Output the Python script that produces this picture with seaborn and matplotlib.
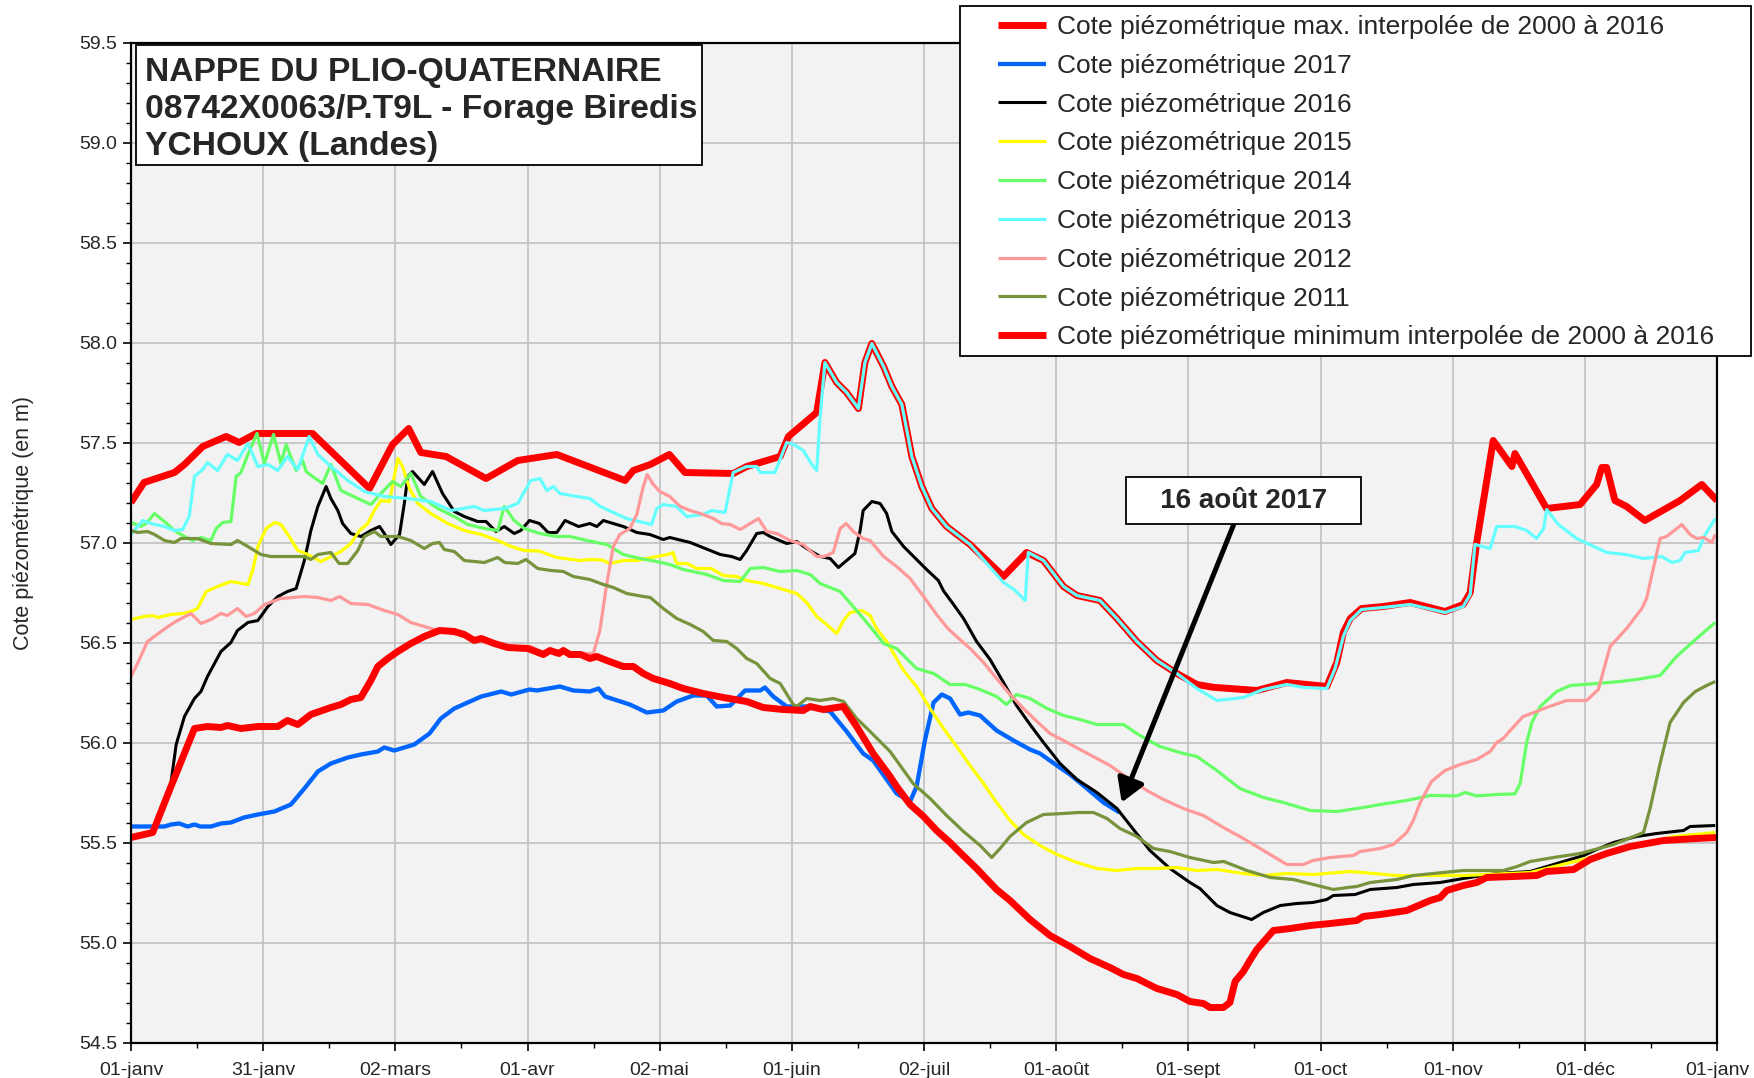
import numpy as np
import pandas as pd
import matplotlib
matplotlib.use("Agg")
import matplotlib.pyplot as plt
from matplotlib.patches import Rectangle
from matplotlib.ticker import FixedLocator, MultipleLocator, FormatStrFormatter
import seaborn as sns

# --- data (day of year, level in m) ---
max_days = [0, 3, 10, 12.3, 16.5, 21.9, 24.9, 28.8, 41.8, 54.9, 60.2, 63.9, 66.7, 72.5, 81.7, 89, 98,
            113.7, 115.6, 119.5, 123.9, 127.5, 138.6, 141.7, 149.4, 151.3, 157.8, 159.7, 162.4, 164.7,
            167.4, 168.9, 170.5, 173.2, 175.1, 177.4, 179.7, 182, 184.3, 187.7, 193.1, 200.8, 206.1,
            210, 214.6, 217.7, 223, 226.9, 231.5, 236.1, 240.7, 245.3, 249.1, 259.1, 266, 275.2, 277.5,
            279, 280.6, 283.2, 288.2, 294.4, 302.4, 306.6, 308.2, 309.7, 313.5, 317.8, 318.5, 325.8,
            333.5, 337.3, 338.5, 339.6, 341.5, 344.2, 348.4, 356.5, 361.5, 365]
max_vals = [57.20, 57.30, 57.35, 57.39, 57.48, 57.53, 57.50, 57.545, 57.545, 57.27, 57.49, 57.57, 57.45,
            57.43, 57.32, 57.41, 57.44, 57.31, 57.36, 57.39, 57.44, 57.35, 57.345, 57.38, 57.43, 57.53,
            57.65, 57.90, 57.80, 57.75, 57.67, 57.90, 57.995, 57.88, 57.78, 57.69, 57.43, 57.28, 57.17,
            57.08, 56.99, 56.83, 56.95, 56.91, 56.78, 56.735, 56.71, 56.62, 56.505, 56.41, 56.345, 56.29,
            56.276, 56.26, 56.30, 56.28, 56.40, 56.55, 56.62, 56.67, 56.68, 56.70, 56.655, 56.69, 56.75,
            57.00, 57.51, 57.38, 57.445, 57.17, 57.19, 57.29, 57.375, 57.375, 57.21, 57.18, 57.11, 57.21,
            57.29, 57.21]

d2017 = [0, 7.7, 9.2, 11.1, 13, 14.6, 16, 18.4, 20.7, 23, 26, 29.2, 33, 36.8, 39.9, 43, 46, 49.9, 52.9,
         56.8, 58.3, 60.6, 65.2, 68.7, 71.3, 74.4, 80.6, 85.2, 87.5, 91.7, 93.4, 98.7, 101.8, 105.6, 107.6,
         109.1, 114.8, 118.7, 122.5, 125.6, 129.4, 132.5, 134.8, 137.9, 141.3, 144.8, 145.9, 147.8, 150.9,
         155.5, 160.9, 164.7, 168.5, 170.8, 176.2, 179.3, 180.8, 182.7, 184.7, 186.6, 188.5, 190.8, 192.7,
         195.4, 199.2, 203.1, 206.9, 209.2, 213.1, 216.1, 220, 223.8, 227.5]
v2017 = [55.58, 55.58, 55.59, 55.595, 55.58, 55.59, 55.58, 55.58, 55.595, 55.60, 55.625, 55.64, 55.655,
         55.69, 55.77, 55.855, 55.895, 55.925, 55.94, 55.955, 55.975, 55.96, 55.99, 56.045, 56.12, 56.17,
         56.23, 56.255, 56.24, 56.265, 56.26, 56.28, 56.26, 56.255, 56.27, 56.23, 56.19, 56.15, 56.16,
         56.205, 56.235, 56.235, 56.18, 56.185, 56.26, 56.26, 56.275, 56.23, 56.18, 56.18, 56.155, 56.055,
         55.945, 55.91, 55.745, 55.705, 55.78, 56.01, 56.20, 56.24, 56.22, 56.14, 56.15, 56.135, 56.06,
         56.01, 55.965, 55.945, 55.885, 55.84, 55.77, 55.70, 55.65]

d2016 = [0, 5, 9.2, 10.4, 12.3, 14.6, 16.1, 17.6, 20.7, 23, 24.5, 26.9, 29.2, 31.5, 33.8, 36, 38, 39.9,
         41.4, 43, 44.9, 46, 47.6, 48.7, 50.6, 52.9, 55.2, 57.2, 58.3, 59.8, 61.8, 62.9, 63.7, 64.8, 67.5,
         69.4, 71.7, 74.4, 76.7, 79.8, 81.7, 84, 85.9, 88.2, 89.7, 91.7, 94, 96, 98, 99.9, 103, 105.6,
         107.2, 108.7, 110.2, 113.3, 116.4, 119.4, 122.5, 124, 128.7, 131, 133.3, 135.6, 138.2, 140.2,
         141.7, 144, 145.5, 147.1, 150.9, 153.2, 155.5, 158.6, 160.9, 162.8, 164.7, 166.6, 167.8, 168.5,
         170.5, 172.4, 173.9, 175.1, 177.8, 180.1, 183.1, 185.8, 187, 189.3, 191.6, 194.6, 197.7, 200.8,
         203.8, 206.9, 210, 213.8, 217.7, 222.3, 226.9, 230.7, 234.5, 239.1, 243.7, 246, 249.9, 252.9,
         257.9, 260.6, 264.5, 268.3, 272, 275.2, 276.7, 281.7, 285.2, 291.3, 295.1, 301.3, 306.6, 314.3,
         322, 329.7, 334.3, 337.3, 341.2, 346.5, 351.1, 357.3, 358.8, 364.6]
v2016 = [55.53, 55.55, 55.80, 55.99, 56.13, 56.22, 56.255, 56.33, 56.455, 56.50, 56.56, 56.60, 56.61,
         56.68, 56.73, 56.755, 56.77, 56.91, 57.06, 57.18, 57.28, 57.22, 57.16, 57.095, 57.045, 57.03,
         57.06, 57.08, 57.045, 56.99, 57.04, 57.195, 57.33, 57.355, 57.29, 57.355, 57.245, 57.155, 57.13,
         57.105, 57.105, 57.055, 57.08, 57.045, 57.06, 57.11, 57.095, 57.05, 57.05, 57.11, 57.08, 57.095,
         57.08, 57.11, 57.10, 57.08, 57.05, 57.04, 57.015, 57.025, 57.0, 56.98, 56.96, 56.94, 56.93,
         56.915, 56.96, 57.045, 57.05, 57.03, 56.995, 57.005, 56.97, 56.93, 56.92, 56.875, 56.91, 56.945,
         57.06, 57.16, 57.205, 57.195, 57.145, 57.055, 56.98, 56.93, 56.865, 56.81, 56.758, 56.69, 56.62,
         56.505, 56.415, 56.30, 56.185, 56.09, 56.0, 55.895, 55.815, 55.75, 55.67, 55.565, 55.46, 55.37,
         55.30, 55.27, 55.185, 55.15, 55.115, 55.15, 55.185, 55.195, 55.20, 55.215, 55.235, 55.24, 55.265,
         55.275, 55.29, 55.30, 55.32, 55.345, 55.355, 55.405, 55.435, 55.465, 55.50, 55.53, 55.545, 55.56,
         55.58, 55.585]

d2015 = [0, 3, 5, 6.1, 9.2, 11.9, 13.8, 15.3, 17.3, 19.9, 23, 26.9, 28, 29.2, 31.1, 33, 34.5, 36.4, 38.4,
         40.7, 43.7, 46, 48.3, 50.6, 52.6, 54.5, 56, 57.5, 59.5, 60.6, 61.4, 62.5, 64.1, 66, 69, 72.9,
         76.7, 80.6, 84.4, 87.5, 90.5, 94, 98, 103.3, 106, 108.5, 110.2, 113.3, 116.4, 121, 123.5, 124.7,
         125.6, 128, 130.2, 133.5, 136.3, 139.4, 141.7, 145.5, 149.4, 153.2, 155.5, 157.8, 160.1, 162.4,
         164, 165.5, 168.2, 170.1, 171.6, 173.9, 177.8, 180.8, 183.9, 187, 190, 193.1, 196.2, 199.2,
         202.3, 205.4, 209.2, 213.1, 217.7, 222.3, 226.9, 231.5, 236, 240.7, 245.3, 250, 256, 260.6, 266,
         272.1, 280.6, 291.3, 306.6, 322, 335, 345, 355, 364.6]
v2015 = [56.615, 56.63, 56.635, 56.625, 56.64, 56.645, 56.655, 56.67, 56.755, 56.78, 56.805, 56.79,
         56.86, 56.98, 57.07, 57.10, 57.09, 57.03, 56.96, 56.94, 56.905, 56.93, 56.955, 56.995, 57.06,
         57.095, 57.16, 57.21, 57.205, 57.33, 57.42, 57.38, 57.27, 57.195, 57.145, 57.095, 57.06, 57.04,
         57.01, 56.98, 56.96, 56.957, 56.925, 56.91, 56.915, 56.912, 56.895, 56.91, 56.91, 56.93, 56.94,
         56.95, 56.895, 56.895, 56.87, 56.87, 56.835, 56.83, 56.81, 56.795, 56.77, 56.745, 56.70, 56.63,
         56.59, 56.545, 56.61, 56.65, 56.66, 56.635, 56.57, 56.505, 56.36, 56.28, 56.17, 56.07, 55.98,
         55.885, 55.795, 55.70, 55.61, 55.54, 55.485, 55.44, 55.40, 55.37, 55.36, 55.37, 55.37, 55.375,
         55.36, 55.365, 55.345, 55.335, 55.345, 55.34, 55.355, 55.335, 55.335, 55.35, 55.42, 55.48, 55.53,
         55.55]

d2014 = [0, 2.3, 3.5, 5.4, 7.7, 10, 12.3, 14.2, 16.1, 18.4, 19.6, 21.1, 23, 24.2, 25.3, 26.9, 29, 30.7,
         32.8, 34.5, 35.7, 38, 39.5, 40.3, 41.8, 44.1, 46, 48.3, 52.2, 55.2, 57.5, 60.2, 62.1, 64.4, 66.7,
         70.6, 74.4, 77.5, 81.3, 84.4, 85.9, 88.2, 90.5, 94.1, 98, 101, 104.9, 109.5, 113.3, 117.1, 121,
         124, 127.1, 132.5, 136.3, 140.2, 142.5, 145.5, 149.4, 153.2, 156.3, 158.6, 163.2, 166.2, 170.1,
         173.2, 176.2, 180.8, 184.7, 188.5, 192, 195.4, 199.2, 201.5, 203.8, 206.9, 210.8, 214.6, 218.4,
         222.3, 228.4, 232.2, 236.8, 242.2, 245.3, 249.9, 255.2, 260.6, 265.2, 271.4, 277.5, 280.6, 283.6,
         287.5, 293.6, 299, 305.1, 307, 309.7, 314.3, 318.5, 319.7, 321.2, 322.4, 324.3, 328.1, 331.2,
         337.3, 342.7, 346.5, 351.9, 355.7, 360.3, 364.6]
v2014 = [57.10, 57.08, 57.095, 57.145, 57.105, 57.06, 57.03, 57.01, 57.025, 57.01, 57.07, 57.10, 57.105,
         57.33, 57.35, 57.44, 57.545, 57.395, 57.54, 57.395, 57.49, 57.36, 57.41, 57.355, 57.33, 57.295,
         57.39, 57.26, 57.22, 57.19, 57.245, 57.305, 57.28, 57.345, 57.23, 57.17, 57.13, 57.09, 57.07,
         57.06, 57.18, 57.11, 57.07, 57.045, 57.03, 57.03, 57.01, 56.99, 56.94, 56.92, 56.905, 56.89,
         56.865, 56.84, 56.81, 56.805, 56.87, 56.875, 56.855, 56.86, 56.84, 56.795, 56.755, 56.68, 56.58,
         56.495, 56.47, 56.37, 56.345, 56.29, 56.29, 56.265, 56.23, 56.19, 56.24, 56.22, 56.17, 56.135,
         56.115, 56.09, 56.09, 56.035, 55.98, 55.945, 55.93, 55.86, 55.77, 55.725, 55.70, 55.66, 55.655,
         55.665, 55.675, 55.69, 55.71, 55.735, 55.733, 55.75, 55.733, 55.74, 55.743, 55.795, 56.0, 56.10,
         56.18, 56.255, 56.285, 56.295, 56.305, 56.315, 56.335, 56.43, 56.52, 56.60]

d2013 = [0, 2.7, 4.6, 7.7, 10, 11.9, 13.4, 14.6, 16.5, 17.6, 19.9, 22.2, 24.5, 26.9, 29.2, 31.5, 33.8, 36,
         38.4, 41, 43, 46, 49.9, 53.7, 58.3, 63.7, 69, 73.6, 79, 81.3, 85.9, 89, 92, 94.1, 95.7, 97.2, 98.7,
         102.6, 105.6, 108, 111, 114, 117.9, 119.8, 121, 122.5, 125.6, 127.9, 131.7, 133.6, 136.7, 138.6,
         141.7, 144, 144.8, 148.2, 150.9, 152.5, 154.7, 156.7, 157.8, 158.6, 159.7, 162.4, 164.7, 167.4,
         168.9, 170.5, 173.2, 175.1, 177.4, 179.7, 182, 184.3, 187.7, 193.1, 200.8, 203.5, 205.8, 206.5,
         210, 214.6, 217.7, 223, 226.9, 231.5, 236.1, 240.7, 245.3, 249.9, 256, 260.6, 266, 270, 275.2,
         277.1, 279, 280.6, 283.2, 288.2, 294.4, 302.4, 306.6, 308.2, 309.3, 312.8, 314.3, 318.5, 321.2,
         323.5, 325.1, 325.8, 328.5, 332.7, 339.6, 344, 348.1, 352.3, 354.6, 356.5, 357.7, 360.7, 362.3,
         364.6]
v2013 = [57.04, 57.11, 57.095, 57.08, 57.06, 57.065, 57.13, 57.33, 57.365, 57.40, 57.36, 57.44, 57.41,
         57.495, 57.38, 57.39, 57.36, 57.43, 57.365, 57.53, 57.44, 57.38, 57.31, 57.255, 57.23, 57.22,
         57.205, 57.16, 57.18, 57.16, 57.17, 57.195, 57.31, 57.32, 57.26, 57.28, 57.245, 57.23, 57.22,
         57.18, 57.15, 57.12, 57.10, 57.09, 57.17, 57.19, 57.18, 57.13, 57.14, 57.16, 57.15, 57.35, 57.38,
         57.38, 57.35, 57.35, 57.50, 57.49, 57.46, 57.39, 57.36, 57.63, 57.90, 57.80, 57.75, 57.67, 57.90,
         57.995, 57.88, 57.78, 57.69, 57.43, 57.28, 57.17, 57.08, 56.99, 56.80, 56.76, 56.71, 56.95, 56.91,
         56.78, 56.735, 56.71, 56.62, 56.505, 56.41, 56.345, 56.27, 56.21, 56.225, 56.265, 56.29, 56.275,
         56.27, 56.37, 56.53, 56.61, 56.665, 56.675, 56.69, 56.65, 56.68, 56.74, 56.99, 56.97, 57.08,
         57.08, 57.06, 57.02, 57.07, 57.165, 57.09, 57.02, 56.95, 56.94, 56.92, 56.93, 56.90, 56.91, 56.95,
         56.96, 57.04, 57.12]

d2012 = [0, 1.5, 3.8, 6.9, 9.2, 10.7, 13.8, 16.1, 18.4, 20.7, 22.2, 24.5, 26.5, 28.4, 30.7, 34.5, 39.9,
         43, 46, 48, 50.6, 54.5, 58.3, 61.4, 64.4, 67.5, 70.6, 75.2, 79.8, 84.4, 88.2, 92, 94.4, 97, 100,
         104, 106.4, 107.9, 109.5, 111, 112.5, 114.8, 116.4, 117.9, 118.8, 120.2, 121.7, 124, 126.4, 128.7,
         131.7, 134, 135.9, 137.9, 140.2, 142.5, 144.4, 146.3, 148.6, 151.7, 154.7, 157.8, 159.5, 161.6,
         163.2, 164.6, 166.2, 168.5, 170.1, 173.2, 176.2, 179.3, 182.4, 185.4, 188, 190, 193.1, 196.2,
         199.2, 202.3, 205.4, 208.5, 211.5, 214.6, 218.4, 222.3, 225.3, 229.9, 233.8, 237.6, 242.2, 246.8,
         251.4, 256, 260.6, 266, 269.8, 272, 276, 281.3, 282.9, 287.5, 290.5, 293.6, 295.1, 296.7, 299.3,
         302.4, 305.9, 309.7, 312.8, 314.3, 315.8, 317.4, 320.4, 323.5, 325.8, 330.4, 335, 337.7, 340.4,
         344.2, 347.7, 348.8, 351.9, 353.4, 356.9, 358.8, 360.3, 362, 363.8, 364.6]
v2012 = [56.33, 56.395, 56.505, 56.555, 56.59, 56.61, 56.645, 56.595, 56.615, 56.645, 56.635, 56.67,
         56.63, 56.645, 56.69, 56.72, 56.73, 56.725, 56.71, 56.73, 56.695, 56.69, 56.66, 56.64, 56.60,
         56.58, 56.56, 56.54, 56.51, 56.495, 56.48, 56.48, 56.455, 56.46, 56.45, 56.445, 56.445, 56.56,
         56.795, 56.98, 57.04, 57.07, 57.14, 57.28, 57.34, 57.29, 57.255, 57.23, 57.18, 57.16, 57.14,
         57.12, 57.095, 57.09, 57.065, 57.095, 57.12, 57.055, 57.045, 57.01, 56.99, 56.93, 56.93, 56.95,
         57.07, 57.095, 57.055, 57.02, 57.01, 56.93, 56.88, 56.82, 56.73, 56.64, 56.57, 56.53, 56.47,
         56.40, 56.32, 56.24, 56.17, 56.105, 56.045, 56.01, 55.965, 55.92, 55.885, 55.815, 55.76, 55.715,
         55.67, 55.635, 55.575, 55.52, 55.46, 55.39, 55.39, 55.41, 55.425, 55.435, 55.455, 55.47, 55.49,
         55.55, 55.61, 55.70, 55.805, 55.86, 55.89, 55.915, 55.955, 56.0, 56.02, 56.06, 56.13, 56.155,
         56.175, 56.21, 56.21, 56.265, 56.48, 56.57, 56.67, 56.72, 57.02, 57.03, 57.09, 57.04, 57.02,
         57.025, 57.0, 57.04]

d2011 = [0, 1.5, 3.8, 5.4, 7.7, 10, 11.5, 15.3, 18.4, 23, 24.5, 26.9, 29.9, 32.2, 35.3, 39.9, 41.4, 43,
         46, 47.9, 49.9, 52.2, 53.7, 56, 57.5, 61.4, 64.4, 67.5, 69.4, 71, 72.1, 74.4, 76.7, 81.3, 84.4,
         86, 89, 90.9, 93.6, 96.7, 99.5, 101.8, 105.6, 108.7, 111, 114.1, 117.9, 119.5, 122.5, 125.6, 128.7,
         131.7, 134, 137.1, 139.4, 141.7, 144, 147.1, 149.4, 152.4, 153.2, 155.5, 158.6, 161.6, 164, 167,
         170.1, 174.7, 180, 183.9, 187.7, 191.6, 195.4, 198.1, 200, 202.3, 206.1, 210, 214.6, 218, 221.5,
         224.6, 227.6, 231.5, 235.3, 239.1, 243.7, 249.1, 251.5, 256.8, 262.2, 267.5, 272.1, 276.7, 280,
         282.1, 285.2, 291.3, 295.1, 306.6, 315.8, 319, 322, 327.4, 333.5, 341.2, 348.1, 349.6, 351.9,
         354.2, 357.3, 360, 362.6, 364.6]
v2011 = [57.06, 57.05, 57.055, 57.04, 57.01, 57.0, 57.02, 57.02, 56.995, 56.99, 57.01, 56.98, 56.94,
         56.93, 56.93, 56.93, 56.915, 56.94, 56.95, 56.895, 56.895, 56.96, 57.03, 57.055, 57.03, 57.03,
         57.01, 56.97, 56.995, 57.0, 56.965, 56.955, 56.91, 56.90, 56.925, 56.90, 56.895, 56.915, 56.87,
         56.86, 56.855, 56.83, 56.815, 56.79, 56.775, 56.745, 56.73, 56.725, 56.67, 56.62, 56.59, 56.555,
         56.51, 56.505, 56.47, 56.42, 56.395, 56.32, 56.295, 56.19, 56.18, 56.22, 56.21, 56.22, 56.205,
         56.12, 56.055, 55.955, 55.795, 55.72, 55.635, 55.555, 55.485, 55.425, 55.47, 55.53, 55.60, 55.64,
         55.645, 55.65, 55.65, 55.62, 55.57, 55.53, 55.47, 55.455, 55.425, 55.40, 55.405, 55.36, 55.325,
         55.315, 55.29, 55.265, 55.275, 55.28, 55.30, 55.315, 55.335, 55.36, 55.36, 55.38, 55.405, 55.425,
         55.445, 55.49, 55.55, 55.67, 55.895, 56.10, 56.20, 56.255, 56.285, 56.305]

min_days = [0, 5, 9.2, 14.6, 17.6, 20.7, 22.2, 25.3, 29.2, 33.8, 36, 38.4, 41.4, 46, 48.3, 50.6, 52.9,
            55.2, 56.8, 59.1, 61.4, 64.4, 67.5, 71, 74.4, 76.7, 79, 80.6, 83.6, 86.7, 91.3, 94.9, 96.4,
            98.5, 99.5, 101, 103.5, 105.6, 107.2, 109.5, 113.3, 115.6, 117.9, 120.2, 124, 127.1, 131.7,
            136.3, 141.7, 145.5, 150.1, 154.7, 156.3, 159.3, 163.9, 167, 170.8, 174.7, 176.2, 179.3, 182.4,
            185.4, 188.5, 190.8, 194.6, 199.2, 202.3, 206.9, 211.5, 216.1, 220.7, 225.3, 228.4, 231.5,
            236.1, 240.7, 243.7, 246.8, 248.3, 251.4, 252.9, 254.1, 256, 257.5, 259.1, 262.9, 266.8, 271.4,
            276, 282.1, 283.6, 287.5, 293.6, 299, 301.3, 302.8, 306.6, 309.7, 312, 318.1, 323.5, 325.8,
            332, 335.8, 339.6, 345, 352.7, 360.3, 365]
min_vals = [55.525, 55.55, 55.78, 56.07, 56.08, 56.075, 56.085, 56.07, 56.08, 56.08, 56.11, 56.09, 56.14,
            56.175, 56.19, 56.215, 56.225, 56.31, 56.38, 56.42, 56.455, 56.495, 56.53, 56.56, 56.555, 56.54,
            56.51, 56.52, 56.495, 56.475, 56.47, 56.44, 56.46, 56.445, 56.46, 56.44, 56.44, 56.42, 56.43,
            56.41, 56.38, 56.38, 56.345, 56.32, 56.295, 56.27, 56.245, 56.225, 56.205, 56.175, 56.165,
            56.16, 56.18, 56.165, 56.18, 56.08, 55.945, 55.83, 55.78, 55.69, 55.63, 55.56, 55.50, 55.45,
            55.37, 55.265, 55.21, 55.115, 55.035, 54.98, 54.92, 54.875, 54.84, 54.82, 54.77, 54.74, 54.705,
            54.695, 54.675, 54.675, 54.70, 54.805, 54.855, 54.91, 54.965, 55.06, 55.07, 55.085, 55.095,
            55.11, 55.13, 55.14, 55.16, 55.21, 55.225, 55.26, 55.285, 55.30, 55.325, 55.33, 55.335, 55.355,
            55.365, 55.415, 55.445, 55.48, 55.51, 55.52, 55.525]

month_labels = ["01-janv", "31-janv", "02-mars", "01-avr", "02-mai", "01-juin", "02-juil",
                "01-août", "01-sept", "01-oct", "01-nov", "01-déc", "01-janv"]

series = [
    ("Cote piézométrique max. interpolée de 2000 à 2016", max_days, max_vals, "#ff0000", 5.0),
    ("Cote piézométrique 2017", d2017, v2017, "#0066ff", 3.1),
    ("Cote piézométrique 2016", d2016, v2016, "#000000", 2.2),
    ("Cote piézométrique 2015", d2015, v2015, "#ffff00", 2.3),
    ("Cote piézométrique 2014", d2014, v2014, "#66ff66", 2.3),
    ("Cote piézométrique 2013", d2013, v2013, "#66ffff", 2.3),
    ("Cote piézométrique 2012", d2012, v2012, "#ff9999", 2.3),
    ("Cote piézométrique 2011", d2011, v2011, "#77933c", 2.3),
    ("Cote piézométrique minimum interpolée de 2000 à 2016", min_days, min_vals, "#ff0000", 5.0),
]

sns.set_theme(style="ticks")
plt.rcParams["font.family"] = ["Liberation Sans", "DejaVu Sans"]

fig = plt.figure(figsize=(17.54, 10.78), dpi=100)
ax = fig.add_axes([131 / 1754, 1 - 1042.5 / 1078, 1586 / 1754, 1000 / 1078])
ax.set_facecolor("#f2f2f2")

for label, xs, ys, col, lw in series:
    df = pd.DataFrame({"jour": xs, "cote": ys})
    sns.lineplot(data=df, x="jour", y="cote", color=col, lw=lw, ax=ax, label=label,
                 estimator=None, sort=False, solid_joinstyle="round", solid_capstyle="butt")

handles, labels = ax.get_legend_handles_labels()
if ax.get_legend() is not None:
    ax.get_legend().remove()

ax.set_xlim(0, 365)
ax.set_ylim(54.5, 59.5)
month_pos = [i * 365 / 12 for i in range(13)]
ax.xaxis.set_major_locator(FixedLocator(month_pos))
ax.xaxis.set_minor_locator(FixedLocator([(i + 0.5) * 365 / 12 for i in range(12)]))
ax.set_xticklabels(month_labels)
ax.yaxis.set_major_locator(MultipleLocator(0.5))
ax.yaxis.set_minor_locator(MultipleLocator(0.1))
ax.yaxis.set_major_formatter(FormatStrFormatter("%.1f"))
ax.grid(True, which="major", color="#c0c0c0", lw=1.2)
ax.set_axisbelow(True)
ax.tick_params(which="major", direction="out", length=6, width=1.2, color="black",
               labelsize=14, pad=4)
ax.tick_params(axis="x", which="major", pad=8)
ax.tick_params(which="minor", direction="out", length=3.5, width=1.0, color="black")
for s in ax.spines.values():
    s.set_color("black")
    s.set_linewidth(1.6)
ax.set_xlabel("")
ax.set_ylabel("Cote piézométrique (en m)", fontsize=15.5)
ax.yaxis.set_label_coords(-0.061, 0.52)

# title box
fig.patches.append(Rectangle((136 / 1754, 1 - 165 / 1078), 566 / 1754, 120 / 1078,
                             transform=fig.transFigure, facecolor="white", edgecolor="black",
                             lw=1.3, zorder=4))
fig.text(145 / 1754, 1 - 57 / 1078,
         "NAPPE DU PLIO-QUATERNAIRE\n08742X0063/P.T9L - Forage Biredis\nYCHOUX (Landes)",
         ha="left", va="top", fontsize=24.2, fontweight="bold", linespacing=1.26, zorder=5)

# legend box
fig.patches.append(Rectangle((960 / 1754, 1 - 356 / 1078), 791 / 1754, 350 / 1078,
                             transform=fig.transFigure, facecolor="white", edgecolor="black",
                             lw=1.3, zorder=4))
leg = fig.legend(handles, labels, loc="upper left", bbox_to_anchor=(977 / 1754, 1 + 6 / 1078),
                 frameon=False, fontsize=19, handlelength=1.8, handletextpad=0.45,
                 labelspacing=0.56, borderpad=0.3)
leg.set_zorder(5)

# annotation
ax.annotate("   16 août 2017   ", xy=(228, 55.70), xytext=(256, 57.21), ha="center", va="center",
            fontsize=20, fontweight="bold",
            bbox=dict(boxstyle="square,pad=0.38", fc="white", ec="black", lw=1.3),
            arrowprops=dict(arrowstyle="-|>,head_length=0.7,head_width=0.42", lw=3.6,
                            color="black", shrinkA=0, shrinkB=0),
            zorder=6)

fig.savefig("out.png", dpi=100)
